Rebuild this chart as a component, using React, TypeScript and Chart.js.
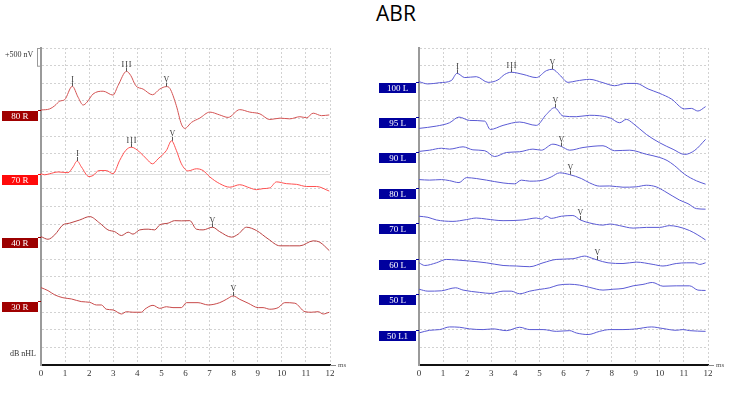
import React, { useEffect, useRef } from 'react';
import { Chart, registerables } from 'chart.js';

Chart.register(...registerables);

// ---------- DATA (time in ms, amplitude in nV relative to each trace's baseline) ----------
const X_MIN = 0;
const X_MAX = 12;
const GRID_NV = 500;
const Y_MAX_NV = 8950;

// Left panel (right ear)
const T_80R = [0, 0.36, 0.57, 0.78, 0.98, 1.3, 1.54, 1.75, 1.91, 2.16, 2.58, 2.99, 3.2, 3.55, 3.73, 3.93, 4.24, 4.63, 4.93, 5.21, 5.35, 5.62, 5.83, 5.97, 6.25, 6.59, 7.01, 7.42, 7.77, 8.25, 8.67, 9.09, 9.5, 9.92, 10.33, 10.75, 11.03, 11.3, 11.65, 11.97];
const A_80R = [0, 30, 120, 250, 290, 670, 360, 140, 220, 450, 530, 420, 690, 1090, 970, 690, 590, 430, 590, 660, 610, 120, -400, -520, -350, -230, -60, -140, -210, 10, -60, -110, -270, -230, -250, -190, -220, -90, -160, -140];
const M_80R: [string, number][] = [['I', 1.3], ['III', 3.55], ['V', 5.21]];

const T_70R = [0, 0.15, 0.36, 0.71, 1.12, 1.33, 1.5, 1.68, 1.99, 2.16, 2.41, 2.71, 2.99, 3.27, 3.52, 3.75, 4.1, 4.38, 4.63, 4.86, 5.21, 5.42, 5.62, 5.83, 6.11, 6.45, 6.73, 7.01, 7.42, 7.84, 8.25, 8.67, 8.95, 9.22, 9.5, 9.78, 10.19, 10.61, 11.03, 11.44, 11.97];
const A_70R = [0, -30, 0, 50, 30, 190, 360, 190, -80, -50, 90, 90, 0, 380, 660, 750, 610, 420, 280, 420, 660, 930, 660, 280, 80, 140, 90, -90, -280, -380, -310, -400, -450, -420, -400, -230, -280, -300, -360, -360, -490];
const M_70R: [string, number][] = [['I', 1.5], ['III', 3.75], ['V', 5.42]];

const T_40R = [0, 0.29, 0.57, 0.91, 1.19, 1.61, 2.02, 2.44, 2.78, 3.06, 3.34, 3.62, 3.82, 4.1, 4.45, 4.72, 4.93, 5.28, 5.55, 5.83, 6.18, 6.45, 6.73, 7.12, 7.42, 7.91, 8.19, 8.53, 8.95, 9.43, 9.92, 10.33, 10.75, 11.3, 11.58, 11.97];
const A_40R = [25, -50, 75, 355, 405, 495, 590, 405, 215, 165, 55, 150, 95, 215, 235, 215, 355, 405, 475, 470, 475, 235, 215, 290, 165, 10, 95, 290, 195, -40, -235, -235, -235, -95, -135, -370];
const M_40R: [string, number][] = [['V', 7.12]];

const T_30R = [0, 0.29, 0.57, 0.91, 1.26, 1.67, 2.02, 2.3, 2.51, 2.71, 2.99, 3.34, 3.55, 3.82, 4.17, 4.31, 4.65, 4.93, 5.21, 5.48, 5.83, 6.04, 6.52, 6.94, 7.42, 7.7, 7.98, 8.25, 8.6, 9.02, 9.22, 9.5, 9.85, 10.12, 10.54, 10.96, 11.23, 11.51, 11.72, 11.97];
const A_30R = [385, 300, 180, 100, 65, -10, -30, -105, -105, -225, -245, -360, -295, -310, -310, -225, -115, -200, -155, -180, -180, -40, -40, -105, -40, 55, 150, 55, -55, -180, -180, -225, -180, -40, -55, -295, -310, -295, -360, -310];
const M_30R: [string, number][] = [['V', 7.98]];

const LEFT_LABELS = ['80 R', '70 R', '40 R', '30 R'];
const LEFT_BASES = [7200, 5400, 3600, 1800];

// Right panel (left ear)
const T_100L = [0, 0.37, 0.86, 1.34, 1.58, 1.9, 2.38, 2.87, 3.28, 3.56, 3.83, 4.32, 4.87, 5.29, 5.54, 5.84, 6.19, 6.53, 7.09, 7.64, 8.12, 8.61, 9.02, 9.51, 9.99, 10.48, 11.03, 11.31, 11.58, 11.9];
const A_100L = [0, -65, -30, 30, 235, 115, 140, -20, 50, 205, 265, 205, 115, 310, 350, 190, -20, 20, 65, -30, -115, -50, -50, -205, -330, -490, -770, -755, -830, -705];
const M_100L: [string, number][] = [['I', 1.58], ['III', 3.83], ['V', 5.54]];

const T_95L = [0, 0.72, 1.27, 1.66, 2.1, 2.73, 2.96, 3.49, 4.18, 4.87, 5.29, 5.63, 5.98, 6.53, 7.09, 7.92, 8.33, 8.61, 8.89, 9.44, 9.99, 10.55, 11.03, 11.45, 11.9];
const A_95L = [-320, -255, -160, 0, -95, -115, -350, -235, -140, -235, 75, 265, 30, 10, 50, -20, -160, -65, -180, -490, -725, -910, -1055, -940, -630];
const M_95L: [string, number][] = [['V', 5.63]];

const T_90L = [0, 0.44, 0.93, 1.27, 1.83, 2.24, 2.73, 3.14, 3.63, 4.18, 4.73, 5.08, 5.56, 5.91, 6.26, 6.81, 7.64, 8.12, 8.75, 9.44, 9.99, 10.3, 10.6, 11.03, 11.52, 11.9];
const A_90L = [30, 65, 120, 95, 160, 75, 50, -115, 0, 20, 95, 65, 235, 170, 65, 140, 190, 50, 65, -50, -140, -225, -365, -615, -800, -895];
const M_90L: [string, number][] = [['V', 5.91]];

const T_80L = [0, 0.44, 0.93, 1.27, 1.66, 1.97, 2.38, 2.8, 3.49, 3.97, 4.25, 4.6, 5.15, 5.49, 5.84, 6.26, 6.74, 7.09, 7.5, 7.92, 8.47, 9.02, 9.44, 9.85, 10.2, 10.82, 11.17, 11.52, 11.9];
const A_80L = [235, 220, 235, 205, 150, 290, 265, 220, 140, 115, 220, 190, 220, 310, 425, 375, 265, 140, 50, 55, 20, 30, 75, 30, -95, -345, -445, -585, -600];
const M_80L: [string, number][] = [['V', 6.26]];

const T_70L = [0, 0.37, 0.72, 1.41, 1.97, 2.38, 2.8, 3.49, 4.32, 4.87, 5.08, 5.29, 5.49, 5.91, 6.39, 6.7, 7.09, 7.64, 7.92, 8.33, 8.89, 9.44, 9.99, 10.41, 10.75, 11.24, 11.58, 11.9];
const A_70L = [200, 170, 95, 55, 105, 150, 120, 75, 95, 150, 120, 200, 140, 200, 220, 95, 10, -50, -20, -65, -135, -115, -115, -65, -95, -205, -330, -470];
const M_70L: [string, number][] = [['V', 6.7]];

const T_60L = [0, 0.24, 0.72, 1.13, 1.55, 2.1, 2.8, 3.49, 4.04, 4.6, 5.15, 5.7, 6.39, 6.88, 7.16, 7.4, 7.85, 8.47, 9.02, 9.72, 10.13, 10.68, 11.1, 11.45, 11.65, 11.9];
const A_60L = [-115, -190, -115, -20, -35, -65, -115, -190, -205, -225, -115, -20, 0, 75, 20, -35, -115, -135, -95, -160, -205, -135, -115, -115, -160, -115];
const M_60L: [string, number][] = [['V', 7.4]];

const T_50L = [0, 0.37, 0.93, 1.52, 1.83, 2.52, 3.0, 3.49, 3.83, 4.18, 4.6, 5.01, 5.43, 5.77, 6.26, 6.67, 7.09, 7.64, 8.06, 8.47, 8.89, 9.3, 9.69, 10.13, 10.68, 11.24, 11.58, 11.9];
const A_50L = [140, 85, 95, 180, 115, 50, 20, 85, 85, 10, 85, 135, 180, 255, 280, 255, 190, 115, 140, 160, 235, 275, 330, 225, 235, 235, 115, 105];

const T_50L1 = [0, 0.44, 0.86, 1.27, 1.69, 2.1, 2.66, 3.07, 3.63, 4.18, 4.6, 5.15, 5.7, 6.26, 6.53, 7.02, 7.5, 7.92, 8.47, 9.02, 9.65, 10.13, 10.68, 10.96, 11.24, 11.9];
const A_50L1 = [-95, -20, 0, 75, 65, 20, 0, 20, -30, 65, 0, 0, -50, -30, -95, -140, -50, 0, 0, 20, 75, 30, -20, 0, -30, -50];

const RIGHT_LABELS = ['100 L', '95 L', '90 L', '80 L', '70 L', '60 L', '50 L', '50 L1'];
const RIGHT_BASES = [8000, 7000, 6000, 5000, 4000, 3000, 2000, 1000];

// ---------- STYLES ----------
type Trace = { label: string; base: number; t: number[]; a: number[]; marks: [string, number][]; color: string; box: string };

const LEFT_TRACES: Trace[] = [
  { label: LEFT_LABELS[0], base: LEFT_BASES[0], t: T_80R, a: A_80R, marks: M_80R, color: '#d45454', box: '#a00000' },
  { label: LEFT_LABELS[1], base: LEFT_BASES[1], t: T_70R, a: A_70R, marks: M_70R, color: '#ff5050', box: '#ff0a0a' },
  { label: LEFT_LABELS[2], base: LEFT_BASES[2], t: T_40R, a: A_40R, marks: M_40R, color: '#bb4242', box: '#9c0000' },
  { label: LEFT_LABELS[3], base: LEFT_BASES[3], t: T_30R, a: A_30R, marks: M_30R, color: '#c84a4a', box: '#a00000' },
];

const BLUE = '#5a5ad4';
const NAVY = '#00009e';
const RIGHT_TRACES: Trace[] = [
  { label: RIGHT_LABELS[0], base: RIGHT_BASES[0], t: T_100L, a: A_100L, marks: M_100L, color: BLUE, box: NAVY },
  { label: RIGHT_LABELS[1], base: RIGHT_BASES[1], t: T_95L, a: A_95L, marks: M_95L, color: BLUE, box: NAVY },
  { label: RIGHT_LABELS[2], base: RIGHT_BASES[2], t: T_90L, a: A_90L, marks: M_90L, color: BLUE, box: NAVY },
  { label: RIGHT_LABELS[3], base: RIGHT_BASES[3], t: T_80L, a: A_80L, marks: M_80L, color: BLUE, box: NAVY },
  { label: RIGHT_LABELS[4], base: RIGHT_BASES[4], t: T_70L, a: A_70L, marks: M_70L, color: BLUE, box: NAVY },
  { label: RIGHT_LABELS[5], base: RIGHT_BASES[5], t: T_60L, a: A_60L, marks: M_60L, color: BLUE, box: NAVY },
  { label: RIGHT_LABELS[6], base: RIGHT_BASES[6], t: T_50L, a: A_50L, marks: [], color: BLUE, box: NAVY },
  { label: RIGHT_LABELS[7], base: RIGHT_BASES[7], t: T_50L1, a: A_50L1, marks: [], color: BLUE, box: NAVY },
];

const SERIF = '"Liberation Serif", "DejaVu Serif", serif';

type PanelOpts = {
  boxLeft: number;
  refBase: number | null;
  scaleBar: boolean;
  dbLabel: boolean;
};

function makeOverlay(traces: Trace[], o: PanelOpts) {
  return {
    id: 'abrOverlay',
    beforeDatasetsDraw(chart: any) {
      const { ctx, chartArea, scales } = chart;
      if (o.refBase != null) {
        const yy = Math.round(scales.y.getPixelForValue(o.refBase)) + 0.5;
        ctx.save();
        ctx.strokeStyle = '#dcdcdc';
        ctx.lineWidth = 1;
        ctx.beginPath();
        ctx.moveTo(chartArea.left, yy);
        ctx.lineTo(chartArea.right, yy);
        ctx.stroke();
        ctx.restore();
      }
    },
    afterDatasetsDraw(chart: any) {
      const { ctx, chartArea, scales } = chart;
      const xs = scales.x;
      const ys = scales.y;
      ctx.save();
      traces.forEach((tr) => {
        const by = Math.round(ys.getPixelForValue(tr.base));
        const boxRight = chartArea.left - 3;
        ctx.fillStyle = tr.box;
        ctx.fillRect(o.boxLeft, by + 1, boxRight - o.boxLeft, 10);
        ctx.fillRect(boxRight, by, 3, 1);
        ctx.fillStyle = '#ffffff';
        ctx.font = `9px ${SERIF}`;
        ctx.textAlign = 'center';
        ctx.textBaseline = 'middle';
        ctx.fillText(tr.label, (o.boxLeft + boxRight) / 2, by + 6.5);
        tr.marks.forEach(([lab, t]) => {
          const i = tr.t.indexOf(t);
          if (i < 0) return;
          const px = Math.round(xs.getPixelForValue(t)) + 0.5;
          const py = ys.getPixelForValue(tr.base + tr.a[i]);
          ctx.strokeStyle = '#555555';
          ctx.lineWidth = 1;
          ctx.beginPath();
          ctx.moveTo(px, py);
          ctx.lineTo(px, py - 4);
          ctx.stroke();
          ctx.fillStyle = '#333333';
          ctx.font = `8px ${SERIF}`;
          ctx.textAlign = 'center';
          ctx.textBaseline = 'alphabetic';
          (ctx as any).letterSpacing = lab.length > 1 ? '1px' : '0px';
          ctx.fillText(lab, px + (lab.length > 1 ? 0.5 : 0), py - 4.5);
          (ctx as any).letterSpacing = '0px';
        });
      });
      // axis extension + unit
      ctx.strokeStyle = '#888888';
      ctx.lineWidth = 1;
      ctx.beginPath();
      ctx.moveTo(chartArea.right, chartArea.bottom + 0.5);
      ctx.lineTo(chartArea.right + 6, chartArea.bottom + 0.5);
      ctx.stroke();
      ctx.fillStyle = '#555555';
      ctx.font = `7px ${SERIF}`;
      ctx.textAlign = 'left';
      ctx.textBaseline = 'middle';
      ctx.fillText('ms', chartArea.right + 8, chartArea.bottom);
      if (o.scaleBar) {
        const h = ys.getPixelForValue(0) - ys.getPixelForValue(GRID_NV);
        ctx.strokeStyle = '#999999';
        ctx.lineWidth = 1;
        ctx.strokeRect(chartArea.left - 3.5, chartArea.top + 0.5, 3, h);
        ctx.fillStyle = '#333333';
        ctx.font = `8px ${SERIF}`;
        ctx.textAlign = 'left';
        ctx.textBaseline = 'middle';
        ctx.fillText('+500 nV', 5, chartArea.top + 7);
      }
      if (o.dbLabel) {
        ctx.fillStyle = '#333333';
        ctx.font = `8px ${SERIF}`;
        ctx.textAlign = 'left';
        ctx.textBaseline = 'middle';
        ctx.fillText('dB nHL', 10, chartArea.bottom - 11.5);
      }
      ctx.restore();
    },
  };
}

function buildChart(canvas: HTMLCanvasElement, traces: Trace[], padding: any, o: PanelOpts) {
  const datasets = traces.map((tr) => ({
    label: tr.label,
    data: tr.t.map((t, i) => ({ x: t, y: tr.base + tr.a[i] })),
    borderColor: tr.color,
    borderWidth: 1,
    pointRadius: 0,
    fill: false,
    cubicInterpolationMode: 'monotone' as const,
  }));
  return new Chart(canvas, {
    type: 'line',
    data: { datasets },
    options: {
      animation: false,
      responsive: false,
      events: [],
      layout: { padding },
      plugins: { legend: { display: false }, tooltip: { enabled: false }, title: { display: false } },
      scales: {
        x: {
          type: 'linear',
          min: X_MIN,
          max: X_MAX,
          afterFit: (s: any) => {
            s.height = 20;
          },
          ticks: {
            stepSize: 1,
            padding: 3,
            color: '#333333',
            font: { family: SERIF, size: 9 },
            maxRotation: 0,
          },
          grid: { color: '#d2d2d2', lineWidth: 1, drawTicks: false },
          border: { display: true, color: '#111111', width: 2, dash: [2, 2] },
        },
        y: {
          type: 'linear',
          min: 0,
          max: Y_MAX_NV,
          afterFit: (s: any) => {
            s.width = 0;
          },
          ticks: { display: false, stepSize: GRID_NV, includeBounds: false },
          grid: { color: '#d2d2d2', lineWidth: 1, drawTicks: false },
          border: { display: true, color: '#9a9a9a', width: 2, dash: [2, 2] },
        },
      },
    },
    plugins: [makeOverlay(traces, o)],
  });
}

export default function App() {
  const leftRef = useRef<HTMLCanvasElement>(null);
  const rightRef = useRef<HTMLCanvasElement>(null);

  useEffect(() => {
    const c1 = buildChart(leftRef.current!, LEFT_TRACES, { left: 41, right: 41, top: 48, bottom: 8 }, {
      boxLeft: 2,
      refBase: LEFT_BASES[1],
      scaleBar: true,
      dbLabel: true,
    });
    const c2 = buildChart(rightRef.current!, RIGHT_TRACES, { left: 48, right: 35, top: 48, bottom: 8 }, {
      boxLeft: 8,
      refBase: null,
      scaleBar: false,
      dbLabel: false,
    });
    return () => {
      c1.destroy();
      c2.destroy();
    };
  }, []);

  return (
    <div style={{ position: 'absolute', left: 0, top: 0, width: 743, height: 393, background: '#ffffff', overflow: 'hidden' }}>
      <div
        style={{
          position: 'absolute',
          left: 346,
          top: -1,
          width: 100,
          textAlign: 'center',
          fontFamily: '"Open Sans", "Liberation Sans", sans-serif',
          fontSize: 21,
          lineHeight: '29px',
          color: '#000000',
        }}
      >
        ABR
      </div>
      <canvas ref={leftRef} width={371} height={393} style={{ position: 'absolute', left: 0, top: 0, width: 371, height: 393 }} />
      <canvas ref={rightRef} width={372} height={393} style={{ position: 'absolute', left: 371, top: 0, width: 372, height: 393 }} />
    </div>
  );
}
